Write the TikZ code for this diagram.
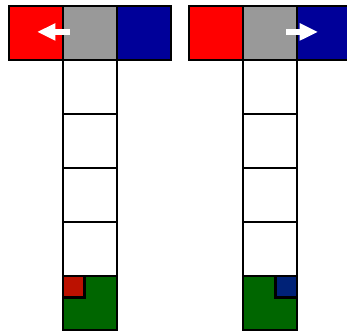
\documentclass[tikz,border=0pt]{standalone}
\usepackage{tikz}
\usepackage{xcolor}
\usetikzlibrary{arrows.meta}

\definecolor{cellred}{RGB}{255,0,0}
\definecolor{cellgray}{RGB}{153,153,153}
\definecolor{cellblue}{RGB}{0,0,153}
\definecolor{cellgreen}{RGB}{0,102,0}
\definecolor{markred}{RGB}{187,17,0}
\definecolor{markblue}{RGB}{0,34,119}

\tikzset{
  cell/.style={draw=black,line width=1.5pt},
  move/.style={white,line width=2.8pt,-{Triangle[length=3.4mm,width=3mm]}}
}

\begin{document}
\begin{tikzpicture}
  \useasboundingbox (0,0) rectangle (6.426,-6.222);

  % left board: piece moves left
  \begin{scope}[shift={(0.167,-0.111)}]
    \foreach \y in {-1,-2,-3,-4} {
      \draw[cell,fill=white] (1,\y) rectangle (2,\y-1);
    }
    \draw[cell,fill=cellgreen] (1,-5) rectangle (2,-6);
    \draw[cell,fill=markred] (1,-5) rectangle (1.4,-5.4);
    \draw[cell,fill=cellred] (0,0) rectangle (1,-1);
    \draw[cell,fill=cellgray] (1,0) rectangle (2,-1);
    \draw[cell,fill=cellblue] (2,0) rectangle (3,-1);
    \draw[move] (1.13,-0.48) -- (0.52,-0.48);
  \end{scope}

  % right board: piece moves right
  \begin{scope}[shift={(3.5,-0.111)}]
    \foreach \y in {-1,-2,-3,-4} {
      \draw[cell,fill=white] (1,\y) rectangle (2,\y-1);
    }
    \draw[cell,fill=cellgreen] (1,-5) rectangle (2,-6);
    \draw[cell,fill=markblue] (1.6,-5) rectangle (2,-5.4);
    \draw[cell,fill=cellred] (0,0) rectangle (1,-1);
    \draw[cell,fill=cellgray] (1,0) rectangle (2,-1);
    \draw[cell,fill=cellblue] (2,0) rectangle (3,-1);
    \draw[move] (1.8,-0.48) -- (2.39,-0.48);
  \end{scope}
\end{tikzpicture}
\end{document}
